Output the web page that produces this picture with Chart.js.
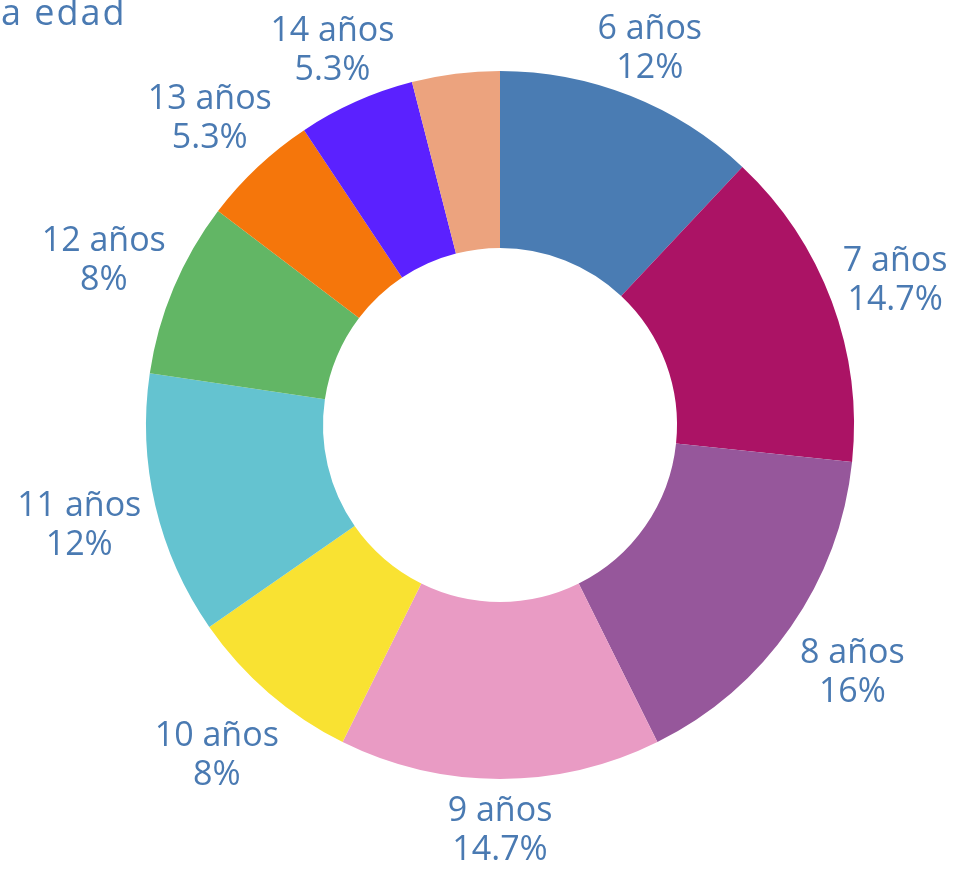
<!DOCTYPE html>
<html>
<head>
<meta charset="utf-8">
<script src="https://cdn.jsdelivr.net/npm/chart.js@4.4.0/dist/chart.umd.min.js"></script>
<style>
  html, body { margin: 0; padding: 0; background: #fff; }
  #wrap { width: 973px; height: 870px; position: relative; }
</style>
</head>
<body>
<div id="wrap"><canvas id="myChart" width="973" height="870"></canvas></div>
<script>
const categories = ["6 años", "7 años", "8 años", "9 años", "10 años", "11 años", "12 años", "13 años", "14 años", "15 años"];
const counts = [9, 11, 12, 11, 6, 9, 6, 4, 4, 3];
const colors = ["#4a7cb3", "#ab1365", "#96579b", "#e99bc4", "#f9e232", "#64c3d0", "#62b665", "#f5760b", "#5b21ff", "#eca37e"];
const hiddenLabels = ["15 años"];
const titleText = "a edad";

const textColor = "#4a7ab2";
const fontSize = 34;
const labelFont = fontSize + "px 'Open Sans'";
const lineHeight = 39;

const total = counts.reduce((a, b) => a + b, 0);
const pctText = (v) => {
  let p = Math.round((v / total) * 1000) / 10;
  return (p % 1 === 0 ? p.toFixed(0) : p.toFixed(1)) + "%";
};

const outsideLabels = {
  id: "outsideLabels",
  afterDraw: (chart) => {
    const ctx = chart.ctx;
    const meta = chart.getDatasetMeta(0);
    const capH = fontSize * 0.714;
    ctx.save();
    ctx.font = labelFont;
    ctx.fillStyle = textColor;
    ctx.textAlign = "center";
    ctx.textBaseline = "alphabetic";
    meta.data.forEach((arc, i) => {
      if (hiddenLabels.includes(categories[i])) return;
      const { x, y, startAngle, endAngle, outerRadius } = arc.getProps(
        ["x", "y", "startAngle", "endAngle", "outerRadius"], true);
      const mid = (startAngle + endAngle) / 2;
      const dx = Math.cos(mid);
      const dy = Math.sin(mid);
      const lines = [categories[i], pctText(counts[i])];
      const w = Math.max(...lines.map((t) => {
        const m = ctx.measureText(t);
        return m.actualBoundingBoxLeft + m.actualBoundingBoxRight;
      }));
      const h = (lines.length - 1) * lineHeight + capH;
      const gap = 11 + 7 * dy;
      const dist = outerRadius + gap + Math.abs(dx) * w / 2 + Math.abs(dy) * h / 2;
      const cx = x + dx * dist;
      const cy = y + dy * dist;
      const base = cy - h / 2 + capH;
      lines.forEach((t, k) => {
        ctx.fillText(t, cx, base + k * lineHeight);
      });
    });
    ctx.restore();
  },
};

const titlePlugin = {
  id: "cornerTitle",
  afterDraw: (chart) => {
    const ctx = chart.ctx;
    ctx.save();
    ctx.font = "36px 'Open Sans'";
    ctx.letterSpacing = "2px";
    ctx.fillStyle = textColor;
    ctx.textAlign = "left";
    ctx.textBaseline = "alphabetic";
    ctx.fillText(titleText, 1, 25);
    ctx.restore();
  },
};

const ctx = document.getElementById("myChart").getContext("2d");
new Chart(ctx, {
  type: "doughnut",
  data: {
    labels: categories,
    datasets: [
      {
        data: counts,
        backgroundColor: colors,
        borderWidth: 0,
      },
    ],
  },
  options: {
    responsive: false,
    animation: false,
    cutout: "50%",
    layout: {
      padding: { left: 145, right: 118, top: 71, bottom: 91 },
    },
    plugins: {
      legend: { display: false },
      tooltip: { enabled: false },
    },
  },
  plugins: [outsideLabels, titlePlugin],
});
</script>
</body>
</html>
